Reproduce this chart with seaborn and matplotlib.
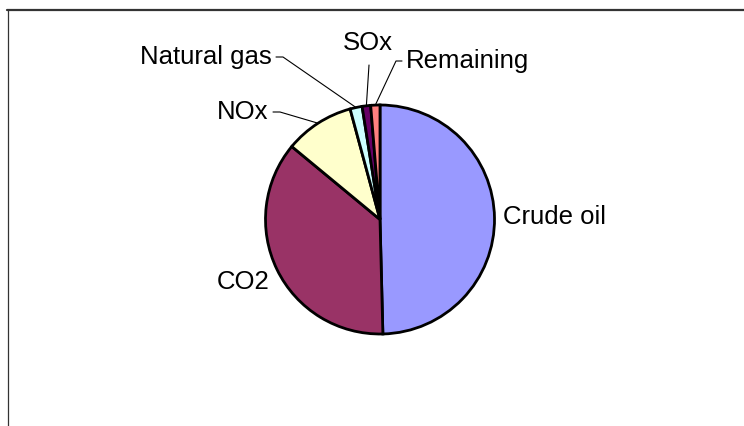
import matplotlib

matplotlib.use("Agg")
import matplotlib.pyplot as plt
import numpy as np
import seaborn as sns

# %%
labels = ["Crude oil", "CO2", "NOx", "Natural gas", "SOx", "Remaining"]
shares = [49.6, 36.4, 9.8, 1.7, 1.2, 1.3]
colors = ["#9999FF", "#993366", "#FFFFCC", "#CCFFFF", "#660066", "#FF8080"]

sns.set_theme(style="white")
plt.rcParams["font.family"] = ["Liberation Sans", "DejaVu Sans"]

W, H = 744, 426
CX, CY, R = 380, 219.5, 114.5  # pie centre / radius in pixels


def px(x, y):
    # pixel position (from top-left) -> data units of the pie axes
    return (x - CX) / R, (CY - y) / R


fig = plt.figure(figsize=(W / 100, H / 100), dpi=100)
ax = fig.add_axes([0, 0, 1, 1])
wedges, _ = ax.pie(
    shares,
    colors=sns.color_palette(colors),
    startangle=90,
    counterclock=False,
    wedgeprops=dict(edgecolor="black", linewidth=2.0),
)
ax.set_xlim((0 - CX) / R, (W - CX) / R)
ax.set_ylim((CY - H) / R, CY / R)
ax.axis("off")

# label text anchors (pixels) and leader start points; None = no leader
label_pos = {
    "Crude oil": ((503, 217), "left", None),
    "CO2": ((270, 282), "right", None),
    "NOx": ((268, 112), "right", [(273, 112), (280, 112)]),
    "Natural gas": ((272, 57), "right", [(276, 57), (283, 57)]),
    "SOx": ((368, 43), "center", [(369, 65)]),
    "Remaining": ((406, 61), "left", [(402, 61), (396, 61)]),
}

for w, name in zip(wedges, labels):
    (tx, ty), ha, leader = label_pos[name]
    ax.text(*px(tx, ty), name, ha=ha, va="center", fontsize=18.5, color="black")
    if leader:
        mid = np.deg2rad((w.theta1 + w.theta2) / 2)
        ex, ey = np.cos(mid), np.sin(mid)
        pts = [px(*p) for p in leader] + [(ex, ey)]
        ax.plot([p[0] for p in pts], [p[1] for p in pts], color="black", lw=0.8)

# chart-area border (only top and left visible)
fig.add_artist(plt.Line2D([7 / W, 1], [1 - 10 / H, 1 - 10 / H], color="#333333", lw=1.6))
fig.add_artist(plt.Line2D([7.5 / W, 7.5 / W], [0, 1 - 10 / H], color="#333333", lw=0.9))

fig.savefig("out.png", dpi=100)
